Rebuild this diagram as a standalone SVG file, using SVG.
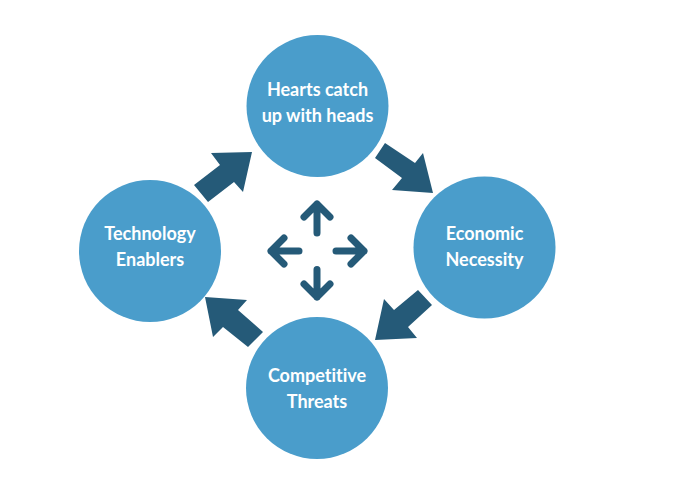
<svg xmlns="http://www.w3.org/2000/svg" width="694" height="479" viewBox="0 0 694 479">
<style>
.node circle{fill:#4a9dcb}
.node text{fill:#ffffff;font-family:"Lato","Open Sans","Liberation Sans",sans-serif;font-weight:700;font-size:18px;text-anchor:middle;font-variant-ligatures:none;font-feature-settings:"liga" 0,"dlig" 0}
.big{fill:#255a78}
.small{fill:none;stroke:#255a78;stroke-width:7;stroke-linecap:round;stroke-linejoin:round}
</style>
<rect width="694" height="479" fill="#ffffff"/>
<g id="node-hearts" class="node">
<circle cx="317.5" cy="106" r="71"/>
<text x="317.5" y="96">Hearts catch</text>
<text x="317.5" y="122">up with heads</text>
</g>
<g id="node-economic" class="node">
<circle cx="484.5" cy="247.5" r="71"/>
<text x="484.5" y="240">Economic</text>
<text x="484.5" y="266">Necessity</text>
</g>
<g id="node-competitive" class="node">
<circle cx="317" cy="388" r="71"/>
<text x="317" y="382">Competitive</text>
<text x="317" y="408">Threats</text>
</g>
<g id="node-technology" class="node">
<circle cx="150" cy="251" r="71"/>
<text x="150" y="240">Technology</text>
<text x="150" y="266">Enablers</text>
</g>
<g id="connectors">
<polygon class="big" points="194,185 220,165 211,153 252,152 243,192 234,182 208,202"/>
<polygon class="big" points="385,143 415,163 423,153 433,193 392,190 402,178 375,158"/>
<polygon class="big" points="418,290 432,305 408,327 417,338 375,340 384,299 394,310"/>
<polygon class="big" points="205,297 247,300 238,310 263,332 248,347 223,327 213,337"/>
<g id="center-arrows">
<path class="small" d="M317,233 V204 M304,217 L317,204 L330,217"/>
<path class="small" d="M317,269.5 V297 M304,284 L317,297 L330,284"/>
<path class="small" d="M299,251 H271 M284,238 L271,251 L284,264"/>
<path class="small" d="M336,251 H364 M351,238 L364,251 L351,264"/>
</g>
</g>
</svg>
